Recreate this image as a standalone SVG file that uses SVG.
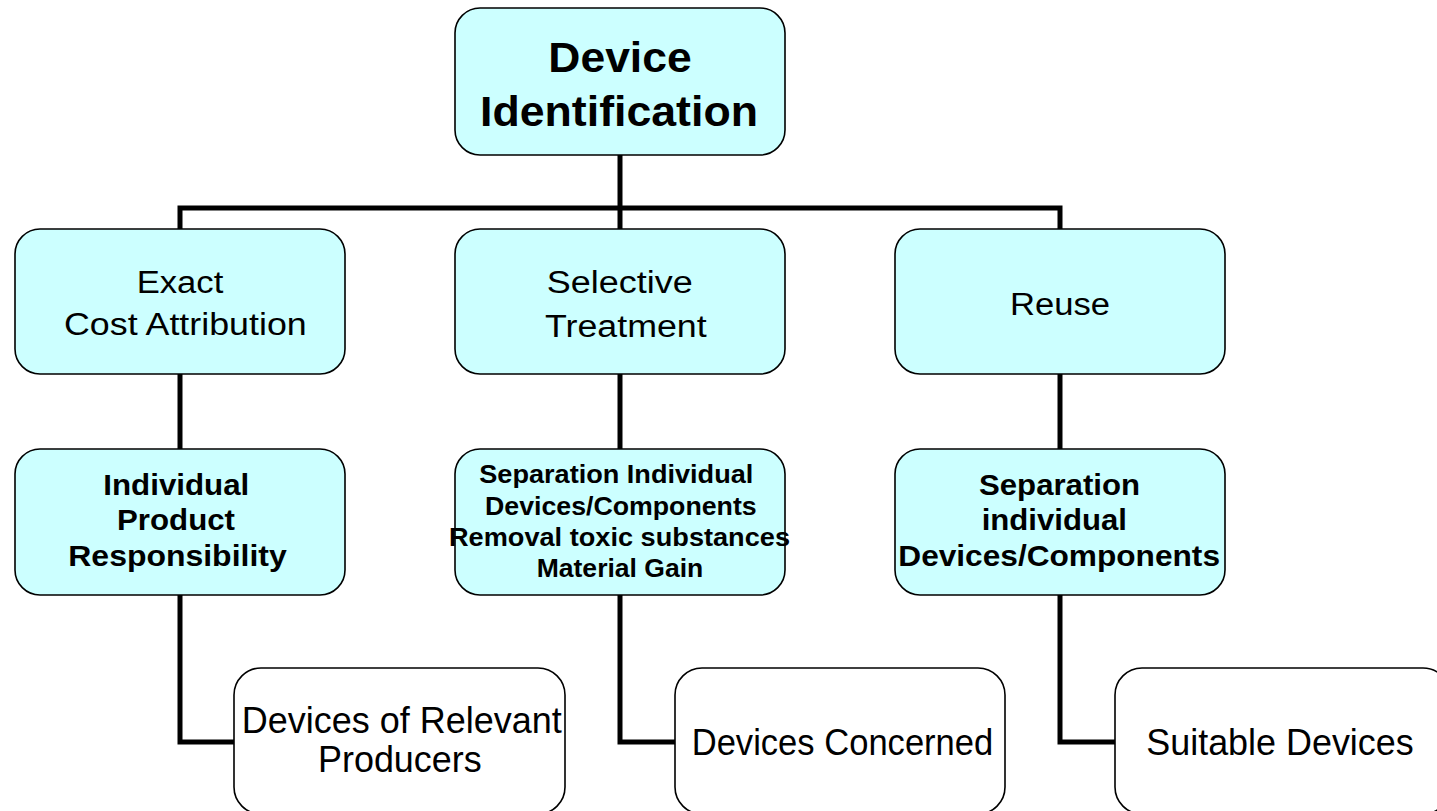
<svg xmlns="http://www.w3.org/2000/svg" width="1437" height="811" viewBox="0 0 1437 811">
<style>
  .box { fill: #CCFFFF; stroke: #000; stroke-width: 1.6; }
  .wbox { fill: #FFFFFF; stroke: #000; stroke-width: 1.6; }
  .conn { fill: none; stroke: #000; stroke-width: 5; stroke-linejoin: miter; }
  text { font-family: "Liberation Sans", Arial, sans-serif; fill: #000; }
  .t1 { font-size: 42px; font-weight: bold; }
  .t2 { font-size: 31px; }
  .t3 { font-size: 30px; font-weight: bold; }
  .t3s { font-size: 25.5px; font-weight: bold; }
  .t4 { font-size: 37px; }
</style>
<rect width="1437" height="811" fill="#FFFFFF"/>
<g id="connectors">
  <path class="conn" d="M620 155 V208"/>
  <path class="conn" d="M180 231 V208 H1060 V231"/>
  <path class="conn" d="M620 208 V231"/>
  <path class="conn" d="M180 374 V449"/>
  <path class="conn" d="M620 374 V449"/>
  <path class="conn" d="M1060 374 V449"/>
  <path class="conn" d="M180 595 V742 H234"/>
  <path class="conn" d="M620 595 V742 H675"/>
  <path class="conn" d="M1060 595 V742 H1115"/>
</g>
<g id="node-device-identification">
  <rect class="box" x="455" y="8" width="330" height="147" rx="25" ry="25"/>
  <text class="t1" x="548.3" y="72" textLength="143.4" lengthAdjust="spacingAndGlyphs">Device</text>
  <text class="t1" x="480" y="126" textLength="278" lengthAdjust="spacingAndGlyphs">Identification</text>
</g>
<g id="node-exact-cost">
  <rect class="box" x="15" y="229" width="330" height="145" rx="25" ry="25"/>
  <text class="t2" x="136.7" y="292.7" textLength="86.6" lengthAdjust="spacingAndGlyphs">Exact</text>
  <text class="t2" x="64" y="334.5" textLength="242.7" lengthAdjust="spacingAndGlyphs">Cost Attribution</text>
</g>
<g id="node-selective-treatment">
  <rect class="box" x="455" y="229" width="330" height="145" rx="25" ry="25"/>
  <text class="t2" x="546.7" y="293.3" textLength="146" lengthAdjust="spacingAndGlyphs">Selective</text>
  <text class="t2" x="545" y="336.5" textLength="161.7" lengthAdjust="spacingAndGlyphs">Treatment</text>
</g>
<g id="node-reuse">
  <rect class="box" x="895" y="229" width="330" height="145" rx="25" ry="25"/>
  <text class="t2" x="1010" y="315" textLength="100" lengthAdjust="spacingAndGlyphs">Reuse</text>
</g>
<g id="node-individual-product">
  <rect class="box" x="15" y="449" width="330" height="146" rx="25" ry="25"/>
  <text class="t3" x="103.3" y="495" textLength="146" lengthAdjust="spacingAndGlyphs">Individual</text>
  <text class="t3" x="117" y="530" textLength="118" lengthAdjust="spacingAndGlyphs">Product</text>
  <text class="t3" x="68.3" y="565.5" textLength="218.4" lengthAdjust="spacingAndGlyphs">Responsibility</text>
</g>
<g id="node-separation-removal">
  <rect class="box" x="455" y="449" width="330" height="146" rx="25" ry="25"/>
  <text class="t3s" x="479.3" y="483.3" textLength="274" lengthAdjust="spacingAndGlyphs">Separation Individual</text>
  <text class="t3s" x="485" y="515" textLength="271.7" lengthAdjust="spacingAndGlyphs">Devices/Components</text>
  <text class="t3s" x="449" y="545.5" textLength="341" lengthAdjust="spacingAndGlyphs">Removal toxic substances</text>
  <text class="t3s" x="536.7" y="576.7" textLength="166.6" lengthAdjust="spacingAndGlyphs">Material Gain</text>
</g>
<g id="node-separation-individual">
  <rect class="box" x="895" y="449" width="330" height="146" rx="25" ry="25"/>
  <text class="t3" x="979" y="495" textLength="161" lengthAdjust="spacingAndGlyphs">Separation</text>
  <text class="t3" x="981.7" y="530" textLength="145.3" lengthAdjust="spacingAndGlyphs">individual</text>
  <text class="t3" x="898.3" y="566" textLength="321.7" lengthAdjust="spacingAndGlyphs">Devices/Components</text>
</g>
<g id="node-devices-relevant-producers">
  <rect class="wbox" x="234" y="668" width="331" height="146" rx="27" ry="27"/>
  <text class="t4" x="241.7" y="733.3" textLength="320" lengthAdjust="spacingAndGlyphs">Devices of Relevant</text>
  <text class="t4" x="318" y="771.7" textLength="163.7" lengthAdjust="spacingAndGlyphs">Producers</text>
</g>
<g id="node-devices-concerned">
  <rect class="wbox" x="675" y="668" width="330" height="146" rx="27" ry="27"/>
  <text class="t4" x="691.7" y="755" textLength="301.6" lengthAdjust="spacingAndGlyphs">Devices Concerned</text>
</g>
<g id="node-suitable-devices">
  <rect class="wbox" x="1115" y="668" width="335" height="146" rx="27" ry="27"/>
  <text class="t4" x="1146.3" y="755" textLength="267.4" lengthAdjust="spacingAndGlyphs">Suitable Devices</text>
</g>
</svg>
